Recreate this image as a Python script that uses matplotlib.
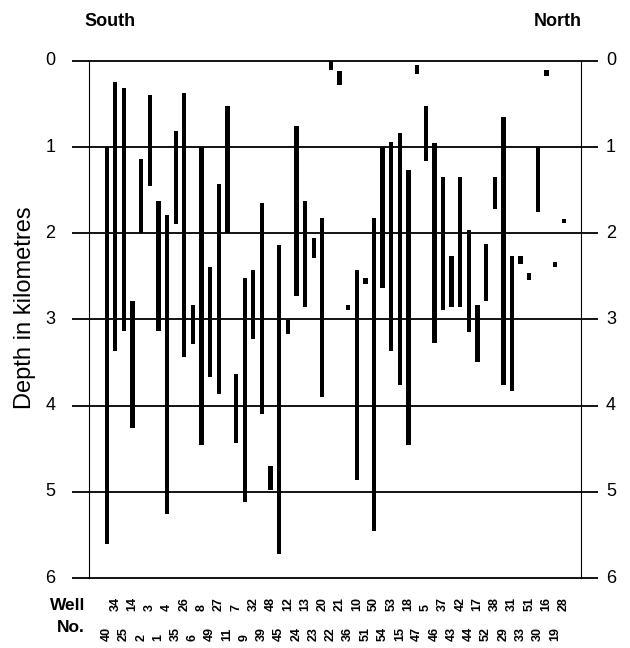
import matplotlib
matplotlib.use("Agg")
import matplotlib.pyplot as plt
import matplotlib.transforms as mtransforms

plt.rcParams['font.family'] = ['Liberation Sans', 'DejaVu Sans']

# well numbers, south -> north (alternating lower/upper label rows)
wells = ['40', '34', '25', '14', '2', '3', '1', '4', '35', '26', '6', '8', '49', '27',
         '11', '7', '9', '32', '39', '48', '45', '12', '24', '13', '23', '20', '22', '21',
         '36', '10', '51', '50', '54', '53', '15', '18', '47', '5', '46', '37', '43', '42',
         '44', '17', '52', '38', '29', '31', '33', '51', '30', '16', '19', '28']
# depth interval of each well, km
top_km = [1.0, 0.24, 0.31, 2.79, 1.14, 0.40, 1.63, 1.79, 0.81, 0.37, 2.83, 1.0, 2.39, 1.43,
          0.52, 3.63, 2.52, 2.43, 1.65, 4.70, 2.13, 3.01, 0.75, 1.62, 2.05, 1.82, 0.0, 0.12,
          2.83, 2.43, 2.52, 1.82, 1.0, 0.94, 0.84, 1.26, 0.05, 0.52, 0.95, 1.35, 2.26, 1.35,
          1.96, 2.83, 2.12, 1.35, 0.65, 2.26, 2.26, 2.46, 1.0, 0.11, 2.33, 1.83]
base_km = [5.6, 3.37, 3.13, 4.26, 2.0, 1.45, 3.13, 5.26, 1.89, 3.43, 3.29, 4.46, 3.67, 3.87,
           2.0, 4.43, 5.12, 3.23, 4.10, 4.98, 5.72, 3.17, 2.73, 2.85, 2.29, 3.90, 0.11, 0.28,
           2.89, 4.86, 2.59, 5.46, 2.63, 3.37, 3.76, 4.46, 0.15, 1.16, 3.27, 2.89, 2.85, 2.85,
           3.15, 3.49, 2.79, 1.72, 3.76, 3.83, 2.36, 2.54, 1.75, 0.17, 2.39, 1.88]
depth_ticks = [0, 1, 2, 3, 4, 5, 6]

fig = plt.figure(figsize=(6.3, 6.48), dpi=100)
ax = fig.add_axes([0.1413, 0.108, 0.7809, 0.7979])

xs = list(range(len(wells)))
heights = [b - t for t, b in zip(top_km, base_km)]
ax.bar(xs, heights, bottom=top_km, width=0.5, color='black', zorder=3)

ax.set_xlim(-2.05, 55.0)
ax.set_ylim(6, 0)
ax.set_yticks(depth_ticks)
ax.set_yticklabels([])
ax.set_xticks([])
ax.yaxis.set_ticks_position('both')
ax.tick_params(axis='y', length=12, width=1.3, direction='out', color='black')
for d in depth_ticks[1:-1]:
    ax.axhline(d, color='black', lw=1.3, zorder=1)
for s in ['top', 'bottom']:
    ax.spines[s].set_linewidth(1.3)
for s in ['left', 'right']:
    ax.spines[s].set_linewidth(0.8)

# depth labels on both sides
ytrans = mtransforms.blended_transform_factory(ax.transAxes, ax.transData)
for d in depth_ticks:
    ax.text(-0.079, d, str(d), transform=ytrans, ha='center', va='center', fontsize=13)
    ax.text(1.061, d, str(d), transform=ytrans, ha='center', va='center', fontsize=13)

# well numbers in two rows
xtrans = mtransforms.blended_transform_factory(ax.transData, fig.transFigure)
for i, w in enumerate(wells):
    ybot = 1 - 641 / 648 if i % 2 == 0 else 1 - 611 / 648
    ax.text(i, ybot, w, transform=xtrans, rotation=90, ha='center', va='bottom',
            fontsize=9, fontweight='bold')

fig.text(50 / 630, 1 - 605 / 648, 'Well', ha='left', va='center', fontsize=12.5, fontweight='bold')
fig.text(57 / 630, 1 - 627 / 648, 'No.', ha='left', va='center', fontsize=12.5, fontweight='bold')
fig.text(84 / 630, 1 - 22 / 648, 'South', ha='left', va='center', fontsize=13, fontweight='bold')
fig.text(582 / 630, 1 - 22 / 648, 'North', ha='right', va='center', fontsize=13, fontweight='bold')
fig.text(25 / 630, 1 - 308 / 648, 'Depth in kilometres', rotation=90, ha='center', va='center',
         fontsize=17)

fig.savefig('out.png', dpi=100)
